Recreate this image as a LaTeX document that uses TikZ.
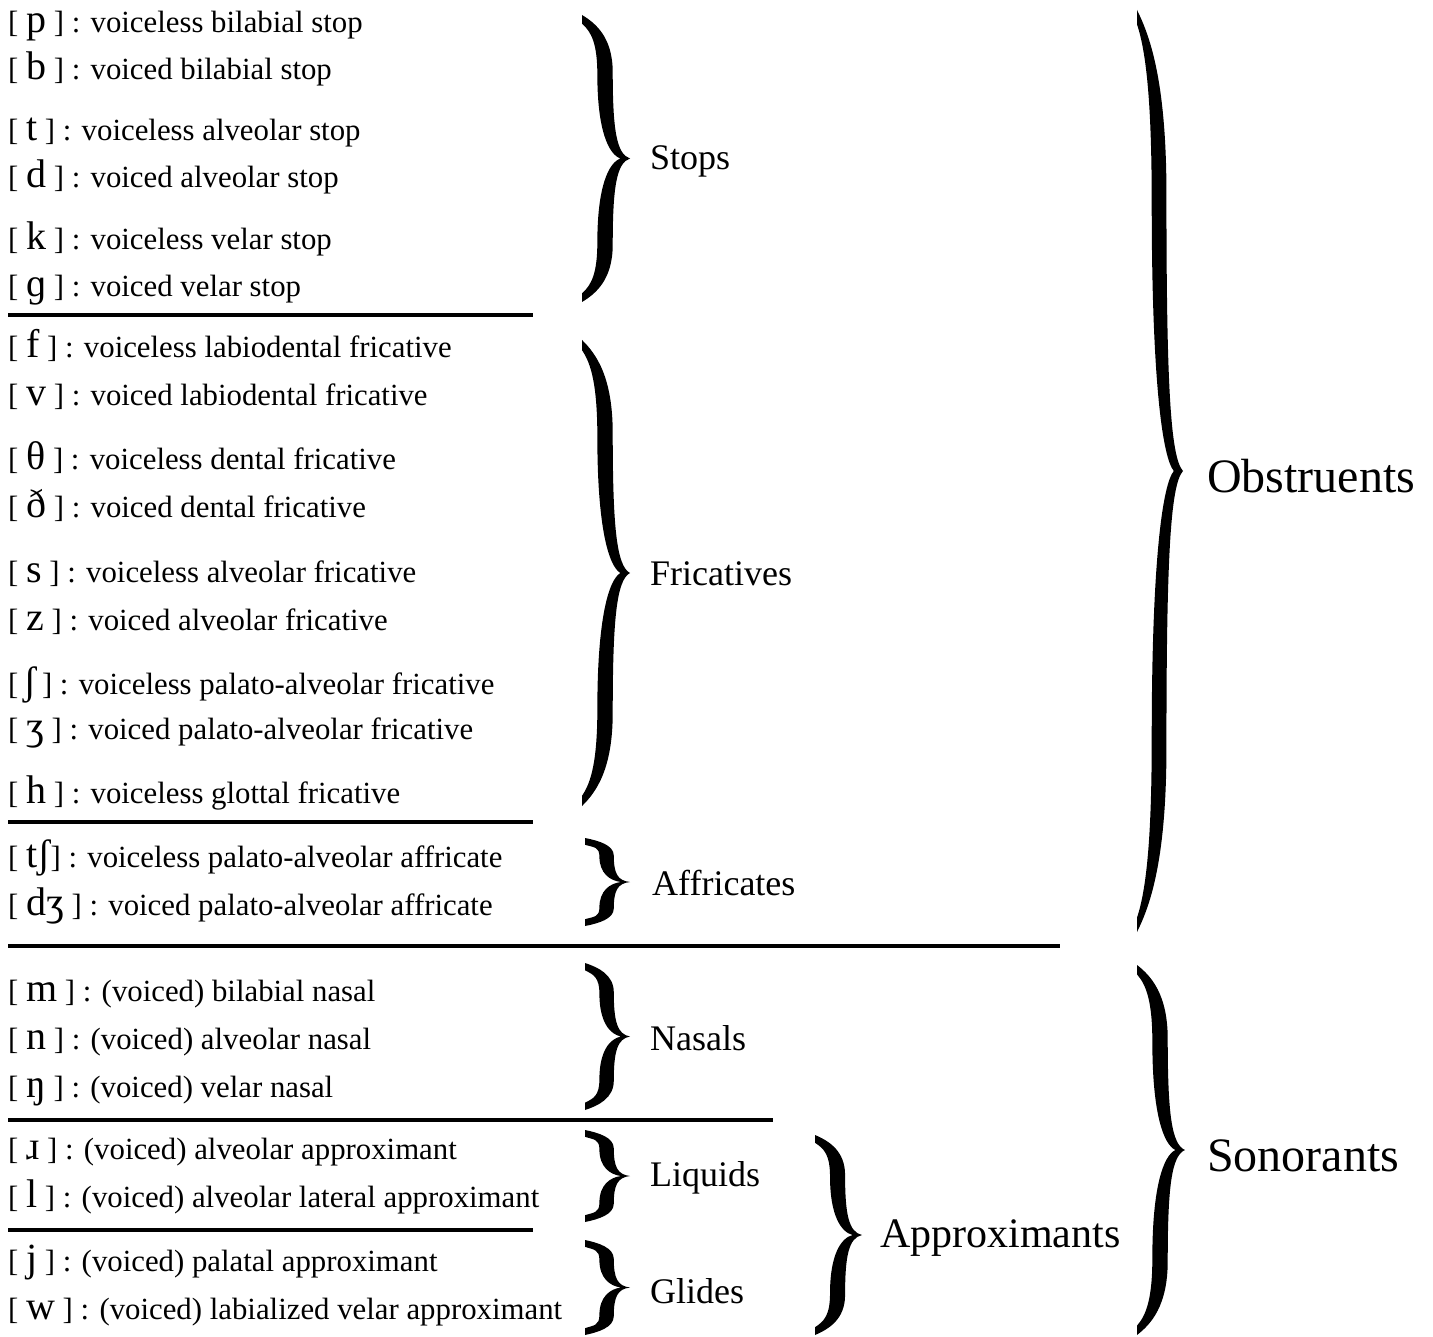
\documentclass[tikz,border=0pt]{standalone}
\usepackage{fontspec}
\setmainfont{Liberation Serif}
\newfontfamily\ipafont{Liberation Serif}
\tikzset{
  row/.style={anchor=base west, inner sep=0pt, font=\fontsize{30.8}{36}\selectfont},
  grp/.style={anchor=west, inner sep=0pt, font=\fontsize{36}{40}\selectfont},
  midgrp/.style={anchor=west, inner sep=0pt, font=\fontsize{42}{46}\selectfont},
  biggrp/.style={anchor=west, inner sep=0pt, font=\fontsize{48}{52}\selectfont},
  rule/.style={line width=3.2pt}
}
\newcommand{\ip}[1]{{\ipafont\fontsize{40}{40}\selectfont #1}}
\newcommand{\cbrace}[4]{%
  \pgfmathsetmacro{\bh}{#3-#2}%
  \pgfmathsetmacro{\be}{(6+0.009*\bh)/\bh}%
  \fill[shift={(#1,#2)},xscale=#4,yscale=\bh]
    (0,0) .. controls (0.30,0.03) and (0.64,0.08) .. (0.64,0.2)
    .. controls (0.64,0.40) and (0.72,0.485) .. (1,0.5)
    .. controls (0.72,0.515) and (0.64,0.60) .. (0.64,0.8)
    .. controls (0.64,0.92) and (0.30,0.97) .. (0,1)
    -- (0,{1-\be})
    .. controls (0.20,{0.97-\be}) and (0.32,0.90) .. (0.32,0.79)
    .. controls (0.32,0.60) and (0.55,0.515) .. (0.80,0.5)
    .. controls (0.55,0.485) and (0.32,0.40) .. (0.32,0.21)
    .. controls (0.32,0.10) and (0.20,{0.03+\be}) .. (0,\be) -- cycle;}
\begin{document}
\begin{tikzpicture}[x=1pt,y=-1pt]
\useasboundingbox (0,0) rectangle (1433,1337);
% obstruent rows
\node[row] (p)  at (8,33)  {[ \ip{p} ] : voiceless bilabial stop};
\node[row] (b)  at (8,80)  {[ \ip{b} ] : voiced bilabial stop};
\node[row] (t)  at (8,141) {[ \ip{t} ] : voiceless alveolar stop};
\node[row] (d)  at (8,188) {[ \ip{d} ] : voiced alveolar stop};
\node[row] (k)  at (8,250) {[ \ip{k} ] : voiceless velar stop};
\node[row] (g)  at (8,297) {[ \ip{ɡ} ] : voiced velar stop};
\draw[rule] (8,315) -- (533,315);
\node[row] (f)  at (8,358) {[ \ip{f} ] : voiceless labiodental fricative};
\node[row] (v)  at (8,406) {[ \ip{v} ] : voiced labiodental fricative};
\node[row] (th) at (8,470) {[ \ip{θ} ] : voiceless dental fricative};
\node[row] (dh) at (8,518) {[ \ip{ð} ] : voiced dental fricative};
\node[row] (s)  at (8,582) {[ \ip{s} ] : voiceless alveolar fricative};
\node[row] (z)  at (8,630) {[ \ip{z} ] : voiced alveolar fricative};
\node[row] (sh) at (8,694) {[\,\ip{ʃ}\,] : voiceless palato-alveolar fricative};
\node[row] (zh) at (8,739) {[ \ip{ʒ} ] : voiced palato-alveolar fricative};
\node[row] (h)  at (8,803) {[ \ip{h} ] : voiceless glottal fricative};
\draw[rule] (8,822) -- (533,822);
\node[row] (ch) at (8,867) {[ \ip{tʃ}] : voiceless palato-alveolar affricate};
\node[row] (dj) at (8,915) {[ \ip{dʒ} ] : voiced palato-alveolar affricate};
\draw[rule] (8,946) -- (1060,946);
% sonorant rows
\node[row] (m)  at (8,1001) {[ \ip{m} ] : (voiced) bilabial nasal};
\node[row] (n)  at (8,1049) {[ \ip{n} ] : (voiced) alveolar nasal};
\node[row] (ng) at (8,1097) {[ \ip{ŋ} ] : (voiced) velar nasal};
\draw[rule] (8,1120) -- (773,1120);
\node[row] (r)  at (8,1159) {[ \ip{ɹ} ] : (voiced) alveolar approximant};
\node[row] (l)  at (8,1207) {[ \ip{l} ] : (voiced) alveolar lateral approximant};
\draw[rule] (8,1230) -- (533,1230);
\node[row] (j)  at (8,1271) {[ \ip{j} ] : (voiced) palatal approximant};
\node[row] (w)  at (8,1319) {[ \ip{w} ] : (voiced) labialized velar approximant};
% braces
\cbrace{582}{15}{302}{48}
\cbrace{582}{340}{806}{48}
\cbrace{585}{838}{926}{45}
\cbrace{1137}{10}{932}{46}
\cbrace{585}{963}{1110}{45}
\cbrace{585}{1130}{1222}{45}
\cbrace{585}{1240}{1335}{45}
\cbrace{815}{1135}{1335}{47}
\cbrace{1137}{965}{1335}{48}
% labels
\node[grp] (stops) at (650,161) {Stops};
\node[grp] (fric)  at (650,574) {Fricatives};
\node[grp] (affr)  at (652,883) {Affricates};
\node[grp] (nas)   at (650,1038) {Nasals};
\node[grp] (liq)   at (650,1178) {Liquids};
\node[grp] (gli)   at (650,1291) {Glides};
\node[midgrp] (appr) at (880,1238) {Approximants};
\node[biggrp] (obs) at (1207,476) {Obstruents};
\node[biggrp] (son) at (1207,1156) {Sonorants};
\end{tikzpicture}
\end{document}
